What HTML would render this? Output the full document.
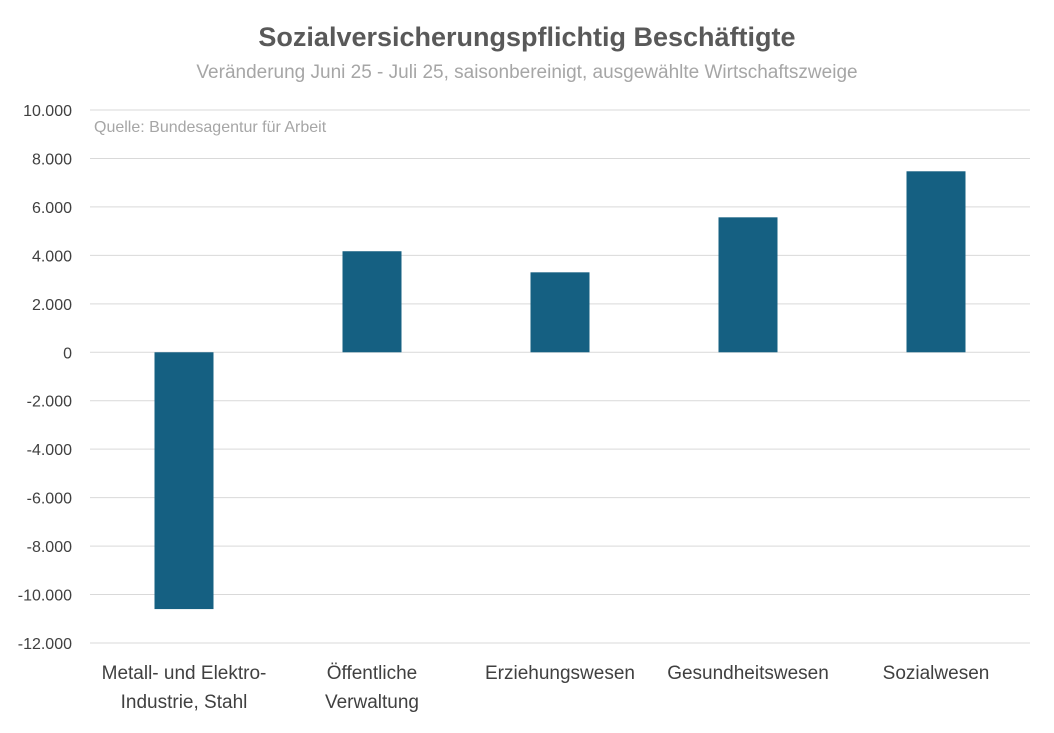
<!DOCTYPE html>
<html><head><meta charset="utf-8">
<style>
body{margin:0;background:#fff;width:1054px;height:728px;overflow:hidden;font-family:"Liberation Sans",sans-serif;}
svg text{font-family:"Liberation Sans",sans-serif;}
</style></head>
<body>
<svg id="chart" width="1054" height="728" xmlns="http://www.w3.org/2000/svg">
<text x="527" y="46" text-anchor="middle" font-size="27" font-weight="bold" fill="#595959">Sozialversicherungspflichtig Beschäftigte</text>
<text x="527" y="78" text-anchor="middle" font-size="19" fill="#a6a6a6">Veränderung Juni 25 - Juli 25, saisonbereinigt, ausgewählte Wirtschaftszweige</text>
<text x="94" y="132" font-size="16" fill="#a6a6a6">Quelle: Bundesagentur für Arbeit</text>
<g id="grid"></g><g id="bars"></g><g id="labels"></g>
</svg>
<script>
const categories=[["Metall- und Elektro-","Industrie, Stahl"],["Öffentliche","Verwaltung"],["Erziehungswesen"],["Gesundheitswesen"],["Sozialwesen"]];
const values=[-10600,4170,3300,5570,7470];
const ticks=[10000,8000,6000,4000,2000,0,-2000,-4000,-6000,-8000,-10000,-12000];
const tickLabels=["10.000","8.000","6.000","4.000","2.000","0","-2.000","-4.000","-6.000","-8.000","-10.000","-12.000"];
const NS="http://www.w3.org/2000/svg";
const x0=90,x1=1030,yTop=110,yBot=643,vMax=10000,vMin=-12000;
const y=v=>yTop+(vMax-v)/(vMax-vMin)*(yBot-yTop);
const band=(x1-x0)/categories.length;
const xc=i=>x0+band*(i+0.5);
const g=document.getElementById('grid'),b=document.getElementById('bars'),l=document.getElementById('labels');
ticks.forEach((t,i)=>{
 const ln=document.createElementNS(NS,'line');
 
 
 ln.setAttribute('x1',x0);ln.setAttribute('x2',x1);ln.setAttribute('y1',y(t));ln.setAttribute('y2',y(t));
 ln.setAttribute('stroke','#d9d9d9');ln.setAttribute('stroke-width','1');
 g.appendChild(ln);
 const tx=document.createElementNS(NS,'text');
 
 
 tx.setAttribute('x',72);tx.setAttribute('y',y(t)+6);tx.setAttribute('text-anchor','end');
 tx.setAttribute('font-size','16');tx.setAttribute('fill','#404040');tx.textContent=tickLabels[i];
 g.appendChild(tx);
});
values.forEach((v,i)=>{
 const r=document.createElementNS(NS,'rect');
 
 
 const w=59;
 r.setAttribute('x',xc(i)-w/2);r.setAttribute('width',w);
 r.setAttribute('y',Math.min(y(v),y(0)));r.setAttribute('height',Math.abs(y(v)-y(0)));
 r.setAttribute('fill','#156082');
 b.appendChild(r);
 categories[i].forEach((s,j)=>{
  const tx=document.createElementNS(NS,'text');
  
  
  tx.setAttribute('x',xc(i));tx.setAttribute('y',679+j*29);tx.setAttribute('text-anchor','middle');
  tx.setAttribute('font-size','19');tx.setAttribute('fill','#404040');tx.textContent=s;
  l.appendChild(tx);
 });
});
</script>
</body></html>
